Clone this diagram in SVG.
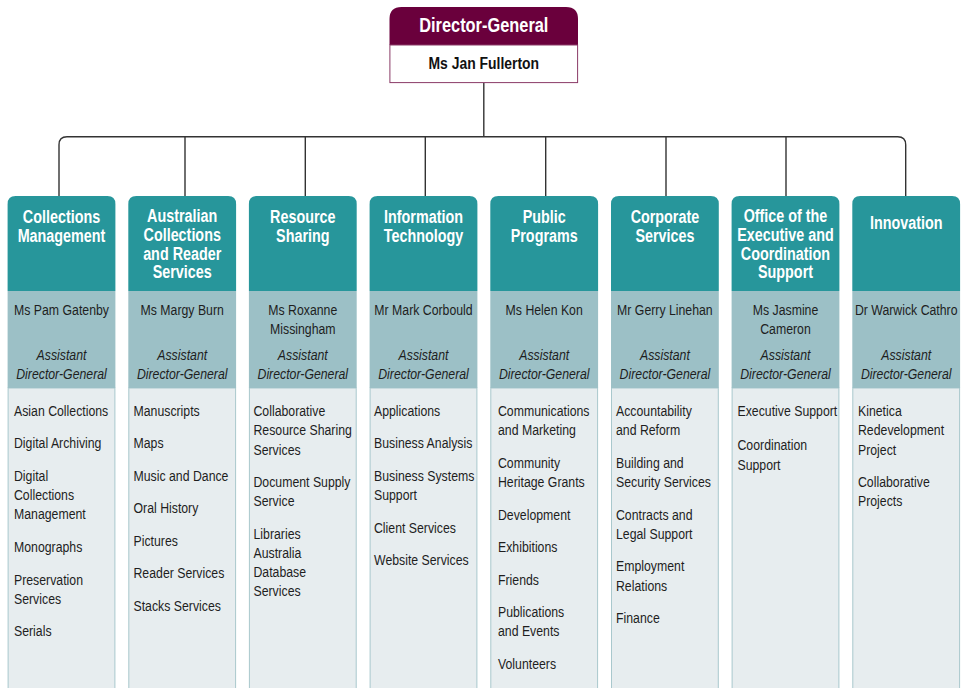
<svg xmlns="http://www.w3.org/2000/svg" width="963" height="688" viewBox="0 0 963 688">
<style>
text{font-family:"Liberation Sans",Arial,sans-serif;}
.hd{fill:#ffffff;font-weight:bold;font-size:17.5px;text-anchor:middle;}
.nm{fill:#1e1e1e;font-size:15px;text-anchor:middle;}
.it{fill:#1e1e1e;font-size:15px;font-style:italic;text-anchor:middle;}
.li{fill:#1e1e1e;font-size:15px;}
.teal{fill:#27969b;}
.mid{fill:#9cc0c6;}
.low{fill:#e7edef;stroke:#a9c8cd;stroke-width:1;}
.con{fill:none;stroke:#333333;stroke-width:1.4;}
</style>
<rect width="963" height="688" fill="#ffffff"/>
<g id="connectors">
<line class="con" x1="483.8" y1="83" x2="483.8" y2="136.7"/>
<path class="con" d="M59,196 V144.7 Q59,136.7 67,136.7 H897.7 Q905.7,136.7 905.7,144.7 V196"/>
<line class="con" x1="185" y1="136.7" x2="185" y2="196"/>
<line class="con" x1="305.3" y1="136.7" x2="305.3" y2="196"/>
<line class="con" x1="425.3" y1="136.7" x2="425.3" y2="196"/>
<line class="con" x1="545.7" y1="136.7" x2="545.7" y2="196"/>
<line class="con" x1="666" y1="136.7" x2="666" y2="196"/>
<line class="con" x1="786" y1="136.7" x2="786" y2="196"/>
</g>
<g id="director-general">
<path d="M389.5,45 V19 Q389.5,7 401.5,7 H566 Q578,7 578,19 V45 Z" fill="#6a003c"/>
<rect x="389.9" y="45" width="187.7" height="37.6" fill="#ffffff" stroke="#8a3a66" stroke-width="1"/>
<g transform="translate(483.8 0) scale(0.82 1)">
<text x="0" y="32" fill="#ffffff" font-weight="bold" font-size="20" text-anchor="middle">Director-General</text>
<text x="0" y="69.5" fill="#111111" font-weight="bold" font-size="17" text-anchor="middle">Ms Jan Fullerton</text>
</g>
</g>
<g id="col1">
<rect class="low" x="8.1" y="388" width="106.8" height="310"/>
<path class="teal" d="M7.6,291 V204 Q7.6,196 15.6,196 H107.4 Q115.4,196 115.4,204 V291 Z"/>
<rect class="mid" x="7.6" y="291" width="107.8" height="97"/>
<g transform="translate(61.5 0) scale(0.82 1)">
<text class="hd" x="0" y="223">Collections</text>
<text class="hd" x="0" y="242">Management</text>
<text class="nm" x="0" y="315.5">Ms Pam Gatenby</text>
<text class="it" x="0" y="360.5">Assistant</text>
<text class="it" x="0" y="379.5">Director-General</text>
</g>
<g transform="translate(14 0) scale(0.82 1)">
<text class="li" x="0" y="416">Asian Collections</text>
<text class="li" x="0" y="448.5">Digital Archiving</text>
<text class="li" x="0" y="481">Digital</text>
<text class="li" x="0" y="500">Collections</text>
<text class="li" x="0" y="519.5">Management</text>
<text class="li" x="0" y="552.5">Monographs</text>
<text class="li" x="0" y="585">Preservation</text>
<text class="li" x="0" y="604">Services</text>
<text class="li" x="0" y="636">Serials</text>
</g>
</g>
<g id="col2">
<rect class="low" x="128.8" y="388" width="106.8" height="310"/>
<path class="teal" d="M128.3,291 V204 Q128.3,196 136.3,196 H228.1 Q236.1,196 236.1,204 V291 Z"/>
<rect class="mid" x="128.3" y="291" width="107.8" height="97"/>
<g transform="translate(182.2 0) scale(0.82 1)">
<text class="hd" x="0" y="222.5">Australian</text>
<text class="hd" x="0" y="241.5">Collections</text>
<text class="hd" x="0" y="260.5">and Reader</text>
<text class="hd" x="0" y="278.5">Services</text>
<text class="nm" x="0" y="315.5">Ms Margy Burn</text>
<text class="it" x="0" y="360.5">Assistant</text>
<text class="it" x="0" y="379.5">Director-General</text>
</g>
<g transform="translate(133.5 0) scale(0.82 1)">
<text class="li" x="0" y="416">Manuscripts</text>
<text class="li" x="0" y="448.5">Maps</text>
<text class="li" x="0" y="481">Music and Dance</text>
<text class="li" x="0" y="513.5">Oral History</text>
<text class="li" x="0" y="546">Pictures</text>
<text class="li" x="0" y="578.5">Reader Services</text>
<text class="li" x="0" y="611">Stacks Services</text>
</g>
</g>
<g id="col3">
<rect class="low" x="249.4" y="388" width="106.8" height="310"/>
<path class="teal" d="M248.9,291 V204 Q248.9,196 256.9,196 H348.7 Q356.7,196 356.7,204 V291 Z"/>
<rect class="mid" x="248.9" y="291" width="107.8" height="97"/>
<g transform="translate(302.8 0) scale(0.82 1)">
<text class="hd" x="0" y="223">Resource</text>
<text class="hd" x="0" y="242">Sharing</text>
<text class="nm" x="0" y="315.5">Ms Roxanne</text>
<text class="nm" x="0" y="334">Missingham</text>
<text class="it" x="0" y="360.5">Assistant</text>
<text class="it" x="0" y="379.5">Director-General</text>
</g>
<g transform="translate(253.5 0) scale(0.82 1)">
<text class="li" x="0" y="416">Collaborative</text>
<text class="li" x="0" y="435">Resource Sharing</text>
<text class="li" x="0" y="455">Services</text>
<text class="li" x="0" y="487">Document Supply</text>
<text class="li" x="0" y="506">Service</text>
<text class="li" x="0" y="539">Libraries</text>
<text class="li" x="0" y="558">Australia</text>
<text class="li" x="0" y="577">Database</text>
<text class="li" x="0" y="596">Services</text>
</g>
</g>
<g id="col4">
<rect class="low" x="370.1" y="388" width="106.8" height="310"/>
<path class="teal" d="M369.6,291 V204 Q369.6,196 377.6,196 H469.4 Q477.4,196 477.4,204 V291 Z"/>
<rect class="mid" x="369.6" y="291" width="107.8" height="97"/>
<g transform="translate(423.5 0) scale(0.82 1)">
<text class="hd" x="0" y="223">Information</text>
<text class="hd" x="0" y="242">Technology</text>
<text class="nm" x="0" y="315.5">Mr Mark Corbould</text>
<text class="it" x="0" y="360.5">Assistant</text>
<text class="it" x="0" y="379.5">Director-General</text>
</g>
<g transform="translate(374 0) scale(0.82 1)">
<text class="li" x="0" y="416">Applications</text>
<text class="li" x="0" y="448.5">Business Analysis</text>
<text class="li" x="0" y="481">Business Systems</text>
<text class="li" x="0" y="500">Support</text>
<text class="li" x="0" y="533">Client Services</text>
<text class="li" x="0" y="565">Website Services</text>
</g>
</g>
<g id="col5">
<rect class="low" x="490.8" y="388" width="106.8" height="310"/>
<path class="teal" d="M490.3,291 V204 Q490.3,196 498.3,196 H590.1 Q598.1,196 598.1,204 V291 Z"/>
<rect class="mid" x="490.3" y="291" width="107.8" height="97"/>
<g transform="translate(544.2 0) scale(0.82 1)">
<text class="hd" x="0" y="223">Public</text>
<text class="hd" x="0" y="242">Programs</text>
<text class="nm" x="0" y="315.5">Ms Helen Kon</text>
<text class="it" x="0" y="360.5">Assistant</text>
<text class="it" x="0" y="379.5">Director-General</text>
</g>
<g transform="translate(498 0) scale(0.82 1)">
<text class="li" x="0" y="416">Communications</text>
<text class="li" x="0" y="435">and Marketing</text>
<text class="li" x="0" y="468">Community</text>
<text class="li" x="0" y="487">Heritage Grants</text>
<text class="li" x="0" y="520">Development</text>
<text class="li" x="0" y="552">Exhibitions</text>
<text class="li" x="0" y="585">Friends</text>
<text class="li" x="0" y="617">Publications</text>
<text class="li" x="0" y="636">and Events</text>
<text class="li" x="0" y="669">Volunteers</text>
</g>
</g>
<g id="col6">
<rect class="low" x="611.5" y="388" width="106.8" height="310"/>
<path class="teal" d="M611,291 V204 Q611,196 619,196 H710.8 Q718.8,196 718.8,204 V291 Z"/>
<rect class="mid" x="611" y="291" width="107.8" height="97"/>
<g transform="translate(664.9 0) scale(0.82 1)">
<text class="hd" x="0" y="223">Corporate</text>
<text class="hd" x="0" y="242">Services</text>
<text class="nm" x="0" y="315.5">Mr Gerry Linehan</text>
<text class="it" x="0" y="360.5">Assistant</text>
<text class="it" x="0" y="379.5">Director-General</text>
</g>
<g transform="translate(616 0) scale(0.82 1)">
<text class="li" x="0" y="416">Accountability</text>
<text class="li" x="0" y="435">and Reform</text>
<text class="li" x="0" y="468">Building and</text>
<text class="li" x="0" y="487">Security Services</text>
<text class="li" x="0" y="520">Contracts and</text>
<text class="li" x="0" y="539">Legal Support</text>
<text class="li" x="0" y="571">Employment</text>
<text class="li" x="0" y="591">Relations</text>
<text class="li" x="0" y="623">Finance</text>
</g>
</g>
<g id="col7">
<rect class="low" x="732.1" y="388" width="106.8" height="310"/>
<path class="teal" d="M731.6,291 V204 Q731.6,196 739.6,196 H831.4 Q839.4,196 839.4,204 V291 Z"/>
<rect class="mid" x="731.6" y="291" width="107.8" height="97"/>
<g transform="translate(785.5 0) scale(0.82 1)">
<text class="hd" x="0" y="222.5">Office of the</text>
<text class="hd" x="0" y="241.5">Executive and</text>
<text class="hd" x="0" y="260.5">Coordination</text>
<text class="hd" x="0" y="278.5">Support</text>
<text class="nm" x="0" y="315.5">Ms Jasmine</text>
<text class="nm" x="0" y="334">Cameron</text>
<text class="it" x="0" y="360.5">Assistant</text>
<text class="it" x="0" y="379.5">Director-General</text>
</g>
<g transform="translate(737.5 0) scale(0.82 1)">
<text class="li" x="0" y="416">Executive Support</text>
<text class="li" x="0" y="450.5">Coordination</text>
<text class="li" x="0" y="470">Support</text>
</g>
</g>
<g id="col8">
<rect class="low" x="852.8" y="388" width="106.8" height="310"/>
<path class="teal" d="M852.3,291 V204 Q852.3,196 860.3,196 H952.1 Q960.1,196 960.1,204 V291 Z"/>
<rect class="mid" x="852.3" y="291" width="107.8" height="97"/>
<g transform="translate(906.2 0) scale(0.82 1)">
<text class="hd" x="0" y="229">Innovation</text>
<text class="nm" x="0" y="315.5">Dr Warwick Cathro</text>
<text class="it" x="0" y="360.5">Assistant</text>
<text class="it" x="0" y="379.5">Director-General</text>
</g>
<g transform="translate(858 0) scale(0.82 1)">
<text class="li" x="0" y="416">Kinetica</text>
<text class="li" x="0" y="435">Redevelopment</text>
<text class="li" x="0" y="455">Project</text>
<text class="li" x="0" y="487">Collaborative</text>
<text class="li" x="0" y="506">Projects</text>
</g>
</g>
</svg>
